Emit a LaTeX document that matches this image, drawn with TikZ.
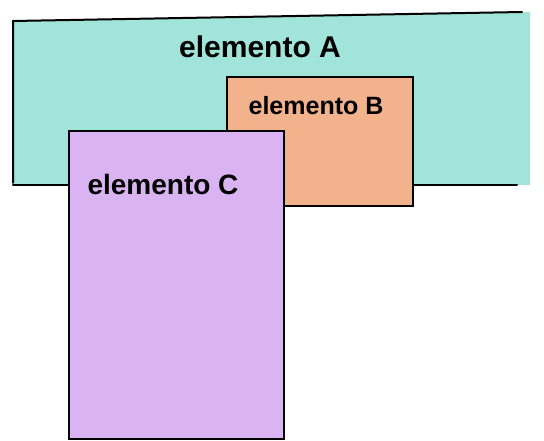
\documentclass[tikz,border=0pt]{standalone}
\usepackage{fontspec}
\setmainfont{Liberation Sans}
\definecolor{colA}{RGB}{160,228,218}
\definecolor{colB}{RGB}{242,178,140}
\definecolor{colC}{RGB}{218,180,242}
\begin{document}
\begin{tikzpicture}[x=1pt,y=-1pt,
  edge/.style={line width=2pt,black,line cap=round},
  lbl/.style={text=black,inner sep=0pt}]
\useasboundingbox (0,0) rectangle (544,441);
% element A
\fill[colA] (13,21) -- (530,12) -- (530,185) -- (13,185) -- cycle;
\draw[edge] (13,183) -- (13,21) -- (522,12);
\draw[edge] (13,185) -- (517,185);
\node[lbl,font=\fontsize{30}{32}\selectfont\bfseries] (a) at (260,47) {elemento A};
% element B
\node[fill=colB,draw,line width=2pt,minimum width=186pt,minimum height=129pt,inner sep=0pt,anchor=north west] (b) at (226,76) {};
\node[lbl,font=\fontsize{25}{27}\selectfont\bfseries] (bl) at (316,106) {elemento B};
% element C
\node[fill=colC,draw,line width=2pt,minimum width=215pt,minimum height=308pt,inner sep=0pt,anchor=north west] (c) at (68,130) {};
\node[lbl,font=\fontsize{28}{30}\selectfont\bfseries] (cl) at (163,184) {elemento C};
\end{tikzpicture}
\end{document}
